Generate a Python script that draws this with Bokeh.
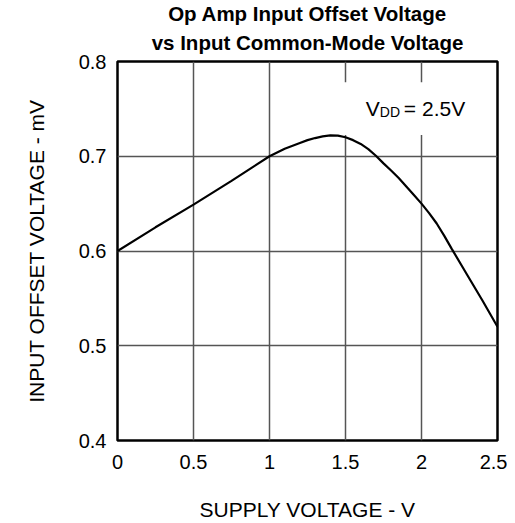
from bokeh.plotting import figure
from bokeh.models import Title, Label, FixedTicker, Range1d
from bokeh.embed import file_html
from bokeh.resources import INLINE

# ---- data ----
supply_v = [0.0, 0.25, 0.5, 0.75, 1.0, 1.1, 1.2, 1.25, 1.3, 1.35, 1.4, 1.45, 1.5, 1.55, 1.6,
            1.65, 1.7, 1.75, 1.8, 1.85, 1.9, 1.95, 2.0, 2.05, 2.1, 2.15, 2.2, 2.3, 2.4, 2.5]
offset_mv = [0.600, 0.625, 0.649, 0.674, 0.700, 0.708, 0.714, 0.7170, 0.7192, 0.7210, 0.7220,
             0.7218, 0.7200, 0.7170, 0.7130, 0.7075, 0.7005, 0.6925, 0.685, 0.677, 0.668,
             0.659, 0.650, 0.640, 0.629, 0.616, 0.602, 0.575, 0.548, 0.520]
x_ticks = [0, 0.5, 1, 1.5, 2, 2.5]
y_ticks = [0.4, 0.5, 0.6, 0.7, 0.8]
title_lines = ["Op Amp Input Offset Voltage", "vs Input Common-Mode Voltage"]
x_label = "SUPPLY VOLTAGE - V"
y_label = "INPUT OFFSET VOLTAGE - mV"
note_main, note_sub, note_rest = "V", "DD", "= 2.5V"

FONT = "Liberation Sans"

p = figure(width=507, height=523, output_backend="svg", toolbar_location=None,
           x_range=Range1d(0, 2.5), y_range=Range1d(0.4, 0.8),
           min_border_left=117, min_border_right=10, min_border_bottom=82, min_border_top=61)

title_style = dict(align="center", text_font=FONT, text_font_size="20.5px",
                   text_font_style="bold", text_color="black")
t2 = Title(text=title_lines[1], standoff=15, **title_style)
try:
    t1 = Title(text=title_lines[0], standoff=-7, **title_style)
except Exception:
    t1 = Title(text=title_lines[0], standoff=0, **title_style)
p.add_layout(t2, "above")
p.add_layout(t1, "above")

p.outline_line_color = "black"
p.outline_line_width = 2.5

for ax in (p.xaxis, p.yaxis):
    ax.axis_line_color = None
    ax.major_tick_line_color = None
    ax.minor_tick_line_color = None
    ax.major_label_text_font = FONT
    ax.major_label_text_font_size = "20px"
    ax.major_label_text_color = "black"
    ax.axis_label_text_font = FONT
    ax.axis_label_text_font_size = "21px"
    ax.axis_label_text_font_style = "normal"
    ax.axis_label_text_color = "black"

p.xaxis.ticker = FixedTicker(ticks=x_ticks)
p.yaxis.ticker = FixedTicker(ticks=y_ticks)
p.xaxis.axis_label = x_label
p.yaxis.axis_label = y_label
p.xaxis.major_label_standoff = 8
p.yaxis.major_label_standoff = 5
p.xaxis.axis_label_standoff = 26
p.yaxis.axis_label_standoff = 28

p.xgrid.grid_line_color = "#555555"
p.ygrid.grid_line_color = "#555555"
p.xgrid.grid_line_width = 1.5
p.ygrid.grid_line_width = 1.5

# white background behind the note
p.quad(left=[1.455], right=[2.46], bottom=[0.7225], top=[0.778],
       fill_color="white", line_color=None)

p.line(supply_v, offset_mv, line_color="black", line_width=2.2)

note_x, note_y = 1.634, 0.750
p.add_layout(Label(x=note_x, y=note_y, text=note_main, text_font=FONT, text_font_size="21px",
                   text_baseline="alphabetic", text_color="black"))
p.add_layout(Label(x=note_x, y=note_y, x_offset=14, y_offset=-3, text=note_sub, text_font=FONT,
                   text_font_size="14px", text_baseline="alphabetic", text_color="black"))
p.add_layout(Label(x=note_x, y=note_y, x_offset=38, text=note_rest, text_font=FONT,
                   text_font_size="21px", text_baseline="alphabetic", text_color="black"))

open("out.html", "w").write(file_html(p, INLINE))
